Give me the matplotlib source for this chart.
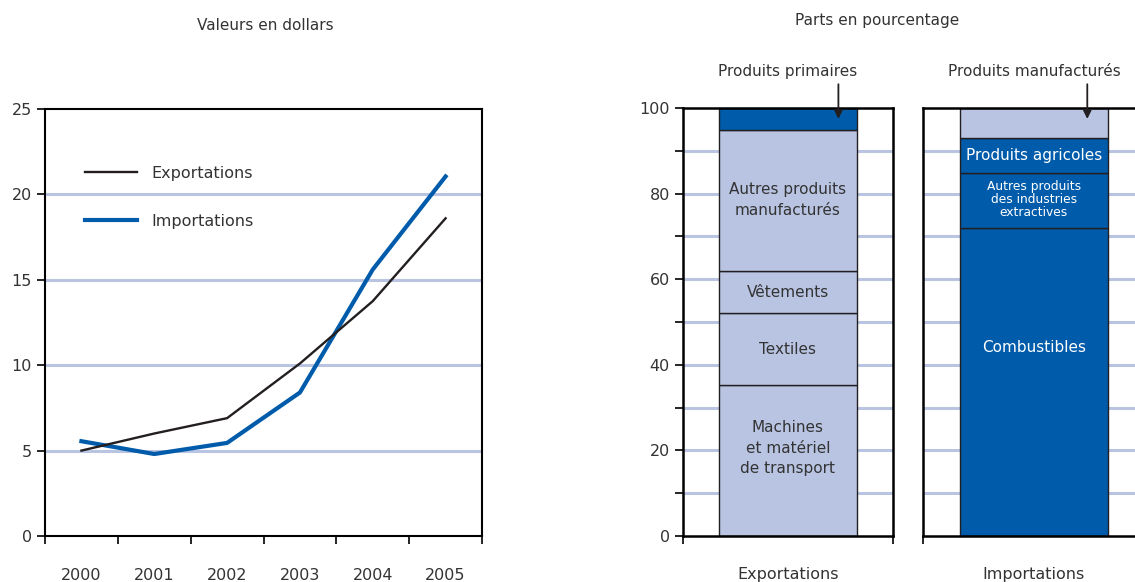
import numpy as np
import matplotlib.pyplot as plt
from matplotlib.ticker import MultipleLocator

plt.rcParams['font.family'] = ['Liberation Sans Narrow', 'DejaVu Sans']
txt = '#333333'
grid_c = '#b8c4e2'
dark_blue = '#005baa'
light = '#b8c4e2'

# Left chart data
years = ['2000', '2001', '2002', '2003', '2004', '2005']
exports = [5.0, 6.0, 6.9, 10.1, 13.75, 18.6]
imports = [5.55, 4.8, 5.45, 8.4, 15.6, 21.05]

# Right chart data (percent shares, bottom to top)
exp_cats = ['Machines\net matériel\nde transport', 'Textiles', 'Vêtements',
            'Autres produits\nmanufacturés', '']
exp_vals = [35.3, 16.7, 10.0, 32.9, 5.1]
exp_cols = [light, light, light, light, dark_blue]
exp_label_y = [20.5, 43.6, 57.0, 78.5, None]

imp_cats = ['Combustibles', 'Autres produits\ndes industries\nextractives',
            'Produits agricoles', '']
imp_vals = [71.9, 12.8, 8.2, 7.1]
imp_cols = [dark_blue, dark_blue, dark_blue, light]
imp_label_y = [44.0, 78.6, 88.9, None]

fig = plt.figure(figsize=(11.35, 5.82), dpi=100)
W, H = 1135, 582


def rect(x0, y0, x1, y1):
    return [x0 / W, 1 - y1 / H, (x1 - x0) / W, (y1 - y0) / H]


# ---- left: line chart
ax = fig.add_axes(rect(45, 109, 482, 536))
x = np.arange(len(years))
for v in [5, 10, 15, 20]:
    ax.axhline(v, color=grid_c, lw=2.2, zorder=1)
ax.plot(x, exports, color='#231f20', lw=1.7, label='Exportations', zorder=3)
ax.plot(x, imports, color=dark_blue, lw=3.0, label='Importations', zorder=2)
ax.set_xlim(-0.5, 5.5)
ax.set_ylim(0, 25)
ax.set_yticks([0, 5, 10, 15, 20, 25])
ax.set_xticks(np.arange(-0.5, 6, 1))
ax.set_xticklabels([])
for i, y in enumerate(years):
    ax.text(i, -0.092, y, transform=ax.get_xaxis_transform(), ha='center',
            va='center', fontsize=11.5, color=txt)
ax.tick_params(axis='both', direction='out', length=6, width=1.2,
               labelsize=11.5, labelcolor=txt)
for s in ax.spines.values():
    s.set_linewidth(1.5)
leg = ax.legend(loc='upper left', bbox_to_anchor=(0.058, 0.9), frameon=False,
                fontsize=11.5, handlelength=3.3, handletextpad=0.85,
                labelspacing=2.05)
for t in leg.get_texts():
    t.set_color(txt)
fig.text(265 / W, 1 - 25 / H, 'Valeurs en dollars', ha='center', va='center',
         fontsize=11, color=txt)


# ---- right: stacked share bars
def share_axes(r, cats, vals, cols, label_y, width, name, ylabels):
    a = fig.add_axes(r)
    for v in range(10, 100, 10):
        a.axhline(v, color=grid_c, lw=2.2, zorder=1)
    bottom = 0
    for c, v, col, ly in zip(cats, vals, cols, label_y):
        a.bar(0, v, bottom=bottom, width=width, color=col, edgecolor='#231f20',
              lw=1.0, zorder=2)
        if c:
            tc = 'white' if col == dark_blue else txt
            small = c.count('\n') == 2 and col == dark_blue
            fs = 8.8 if small else 11
            a.text(0, ly, c, ha='center', va='center', fontsize=fs,
                   color=tc, zorder=3, linespacing=1.0 if small else 1.45)
        bottom += v
    a.set_xlim(-0.5, 0.5)
    a.set_ylim(0, 100)
    a.set_xticks([-0.5, 0.5] if ylabels else [-0.5])
    a.set_xticklabels([])
    a.yaxis.set_major_locator(MultipleLocator(20))
    a.yaxis.set_minor_locator(MultipleLocator(10))
    a.tick_params(axis='both', which='both', direction='out', length=6,
                  width=1.2, labelsize=11.5, labelcolor=txt)
    if not ylabels:
        a.tick_params(axis='y', which='both', left=False, labelleft=False)
    for s in a.spines.values():
        s.set_linewidth(1.8)
    a.text(0, -0.09, name, transform=a.get_xaxis_transform(), ha='center',
           va='center', fontsize=11.5, color=txt)
    return a


ax1 = share_axes(rect(683, 108, 893, 536), exp_cats, exp_vals, exp_cols,
                 exp_label_y, 0.657, 'Exportations', True)
ax2 = share_axes(rect(923, 108, 1145, 536), imp_cats, imp_vals, imp_cols,
                 imp_label_y, 0.667, 'Importations', False)

ax1.text(0, 108.5, 'Produits primaires', ha='center', va='center',
         fontsize=11, color=txt, clip_on=False)
ax1.annotate('', xy=(0.24, 96.8), xytext=(0.24, 106.2),
             arrowprops=dict(arrowstyle='-|>', color='#231f20', lw=1.3,
                             mutation_scale=12), annotation_clip=False)
ax2.text(0, 108.5, 'Produits manufacturés', ha='center', va='center',
         fontsize=11, color=txt, clip_on=False)
ax2.annotate('', xy=(0.24, 96.8), xytext=(0.24, 106.2),
             arrowprops=dict(arrowstyle='-|>', color='#231f20', lw=1.3,
                             mutation_scale=12), annotation_clip=False)

fig.text(877 / W, 1 - 20 / H, 'Parts en pourcentage', ha='center',
         va='center', fontsize=11, color=txt)

fig.savefig('out.png', dpi=100)
